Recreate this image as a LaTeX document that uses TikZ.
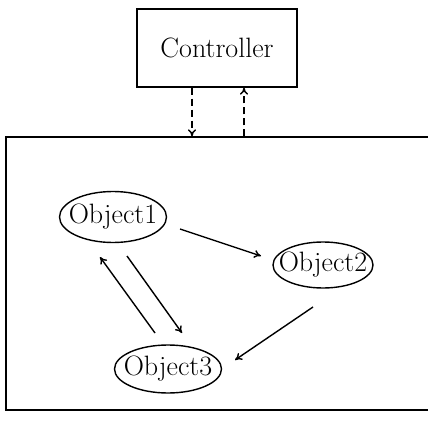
\documentclass[tikz,border=0pt]{standalone}
\usetikzlibrary{shapes.geometric,calc,arrows.meta}
\begin{document}
\begin{tikzpicture}[x=1pt,y=1pt,
  line width=1.4pt,
  txt/.style={font=\fontsize{28}{32}\selectfont},
  obj/.style={ellipse,draw,inner ysep=0pt,inner xsep=-7pt,txt},
  arr/.style={-{To[length=7pt,width=8pt]}},
  darr/.style={-{To[length=7pt,width=8pt]},dash pattern=on 7pt off 4pt}]
\useasboundingbox (0,0) rectangle (428,-425);
\clip (0,0) rectangle (428,-425);
\node[draw,minimum width=160pt,minimum height=78pt,txt] (ctrl) at (217,-48) {Controller};
\node[draw,minimum width=434pt,minimum height=273pt,inner sep=0pt] (sys) at (223,-273.5) {};
\node[obj,minimum width=107pt,minimum height=51pt] (o1) at (113,-217) {Object1};
\node[obj,inner xsep=-9pt,minimum width=100pt,minimum height=46pt] (o2) at (323,-265) {Object2};
\node[obj,minimum width=107pt,minimum height=48pt] (o3) at (168,-369) {Object3};
\draw[darr] ([xshift=-25pt]ctrl.south) -- ([xshift=-25pt]ctrl.south |- sys.north);
\draw[darr] ([xshift=27pt]ctrl.south |- sys.north) -- ([xshift=27pt]ctrl.south);
\draw[arr] ($(o1)+(67,-12)$) -- ($(o2)+(-62,9)$);
\draw[arr] ($(o1)+(14,-39)$) -- ($(o3)+(14,36)$);
\draw[arr] ($(o3)+(-13,36)$) -- ($(o1)+(-13,-40)$);
\draw[arr] ($(o2)+(-10,-42)$) -- ($(o3)+(67,9)$);
\end{tikzpicture}
\end{document}
